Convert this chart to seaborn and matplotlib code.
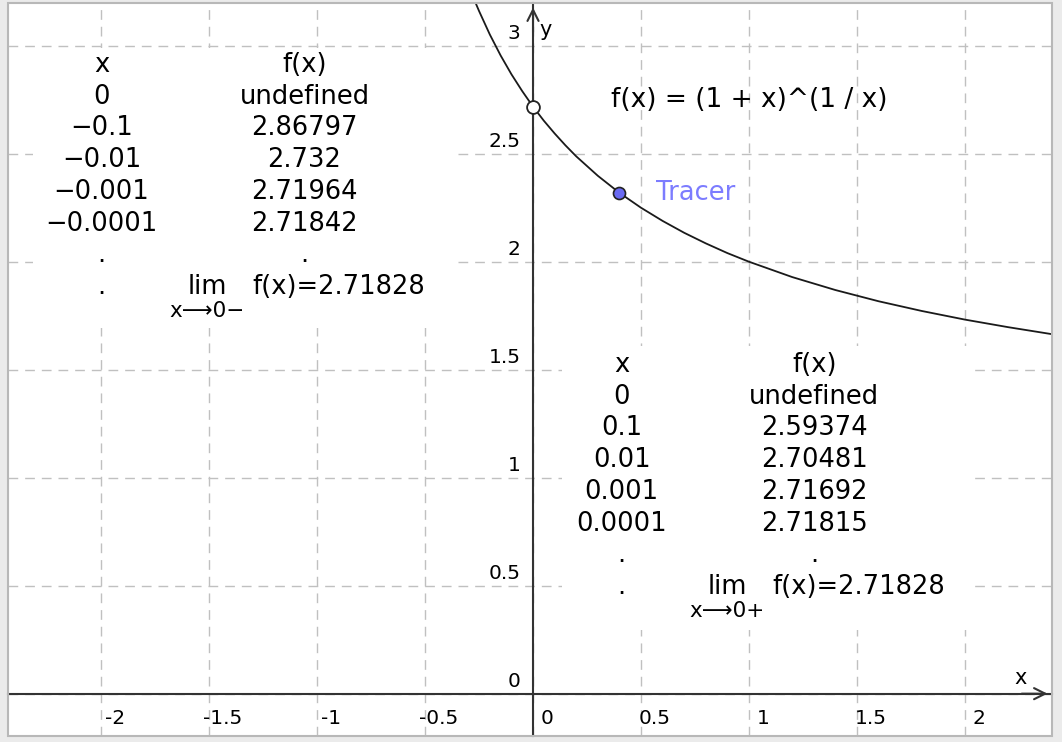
import numpy as np
import pandas as pd
import matplotlib
matplotlib.use('Agg')
import matplotlib.pyplot as plt
from matplotlib.patches import Rectangle
import seaborn as sns

curve_x = [-0.27, -0.25, -0.2, -0.15, -0.1, -0.05, 0.0, 0.05, 0.1, 0.15, 0.2, 0.3, 0.4,
           0.5, 0.6, 0.7, 0.8, 0.9, 1.0, 1.2, 1.4, 1.6, 1.8, 2.0, 2.2, 2.4, 2.45]
curve_y = [3.208, 3.161, 3.052, 2.955, 2.868, 2.790, 2.718, 2.653, 2.594, 2.539, 2.488, 2.398, 2.319,
           2.250, 2.189, 2.134, 2.085, 2.040, 2.000, 1.929, 1.869, 1.817, 1.772, 1.732, 1.697, 1.665, 1.658]

hole_x, hole_y = [0.0], [2.71828]
tracer_x, tracer_y = [0.4], [2.319]

x_ticks = [-2, -1.5, -1, -0.5, 0, 0.5, 1, 1.5, 2]
x_tick_labels = ['-2', '-1.5', '-1', '-0.5', '0', '0.5', '1', '1.5', '2']
y_ticks = [0, 0.5, 1, 1.5, 2, 2.5, 3]
y_tick_labels = ['0', '0.5', '1', '1.5', '2', '2.5', '3']

left_x_col = ['x', '0', '−0.1', '−0.01', '−0.001', '−0.0001', '.', '.']
left_f_col = ['f(x)', 'undefined', '2.86797', '2.732', '2.71964', '2.71842', '.']
right_x_col = ['x', '0', '0.1', '0.01', '0.001', '0.0001', '.', '.']
right_f_col = ['f(x)', 'undefined', '2.59374', '2.70481', '2.71692', '2.71815', '.']
limit_value = '2.71828'

formula = 'f(x) = (1 + x)^(1 / x)'

sns.set_style('white')
plt.rcParams['font.family'] = ['DejaVu Sans']
plt.rcParams['text.color'] = 'black'

fig = plt.figure(figsize=(10.62, 7.42), dpi=100, facecolor='#ebebeb')
ax = fig.add_axes([8 / 1062, 6 / 742, 1044 / 1062, 733 / 742])
ax.set_facecolor('white')
ax.set_xlim(-2.431, 2.403)
ax.set_ylim(-0.196, 3.198)

# 网格
ax.set_xticks(x_ticks)
ax.set_yticks(y_ticks)
ax.set_axisbelow(True)
ax.grid(True, color='#c0c0c0', linewidth=1, linestyle=(0, (7, 5)))

# axes through the origin
for s in ['top', 'right']:
    ax.spines[s].set_visible(False)
ax.spines['left'].set_position(('data', 0))
ax.spines['bottom'].set_position(('data', 0))
for s in ['left', 'bottom']:
    ax.spines[s].set_color('#333333')
    ax.spines[s].set_linewidth(1.5)
ax.tick_params(direction='out', length=5, width=1.2, color='#333333',
               labelbottom=False, labelleft=False)

ax.annotate('', xy=(2.395, 0), xytext=(2.25, 0),
            arrowprops=dict(arrowstyle='->', color='#333333', lw=1.5, mutation_scale=20))
ax.annotate('', xy=(0, 3.19), xytext=(0, 3.05),
            arrowprops=dict(arrowstyle='->', color='#333333', lw=1.5, mutation_scale=20))
ax.text(2.257, 0.072, 'x', fontsize=15, ha='center', va='center')
ax.text(0.058, 3.075, 'y', fontsize=15, ha='center', va='center')

for t, lab in zip(x_ticks, x_tick_labels):
    ax.annotate(lab, xy=(t, 0), xytext=(10, -18), textcoords='offset points',
                ha='center', va='center', fontsize=14.5)
for t, lab in zip(y_ticks, y_tick_labels):
    ax.annotate(lab, xy=(0, t), xytext=(-9, 8.5), textcoords='offset points',
                ha='right', va='center', fontsize=14.5)

# frame of the window
ax.add_patch(Rectangle((0, 0), 1, 1, transform=ax.transAxes, fill=False,
                       edgecolor='#b8b8b8', lw=1.5, clip_on=False, zorder=6))

# white backgrounds behind the two tables
ax.add_patch(Rectangle((-2.317, 1.693), 1.944, 1.296, facecolor='white', edgecolor='none', zorder=1))
ax.add_patch(Rectangle((0.132, 0.295), 1.898, 1.315, facecolor='white', edgecolor='none', zorder=1))

# curve and points
sns.lineplot(x=curve_x, y=curve_y, color='#1a1a1a', linewidth=1.3, ax=ax, zorder=3)
sns.scatterplot(x=hole_x, y=hole_y, s=85, color='white', edgecolor='#222222',
                linewidth=1.3, ax=ax, zorder=4)
sns.scatterplot(x=tracer_x, y=tracer_y, s=75, color='#6a6af2', edgecolor='#222222',
                linewidth=1.2, ax=ax, zorder=4)
ax.annotate('Tracer', xy=(tracer_x[0], tracer_y[0]), xytext=(26, 0),
            textcoords='offset points', ha='left', va='center', fontsize=18.5, color='#7c7cff')

ax.text(0.363, 2.748, formula, fontsize=19, ha='left', va='center', zorder=5)

# tables
step = 0.147
fs = 18.5


def draw_table(x_col, f_col, xc, fc, y0, sign):
    for i, s in enumerate(x_col):
        ax.text(xc, y0 - i * step, s, fontsize=fs, ha='center', va='center', zorder=5)
    for i, s in enumerate(f_col):
        ax.text(fc, y0 - i * step, s, fontsize=fs, ha='center', va='center', zorder=5)
    yl = y0 - 7 * step
    ax.text(xc + 0.49, yl, 'lim', fontsize=fs, ha='center', va='center', zorder=5)
    ax.text(xc + 0.70, yl, 'f(x)=' + limit_value, fontsize=fs, ha='left', va='center', zorder=5)
    ax.text(xc + 0.49, yl - 0.108, 'x⟶0' + sign, fontsize=15.5, ha='center', va='center', zorder=5)


draw_table(left_x_col, left_f_col, -1.998, -1.058, 2.911, '−')
draw_table(right_x_col, right_f_col, 0.41, 1.303, 1.522, '+')

ax.set_xlabel('')
ax.set_ylabel('')
fig.savefig('out.png', dpi=100, facecolor=fig.get_facecolor())
